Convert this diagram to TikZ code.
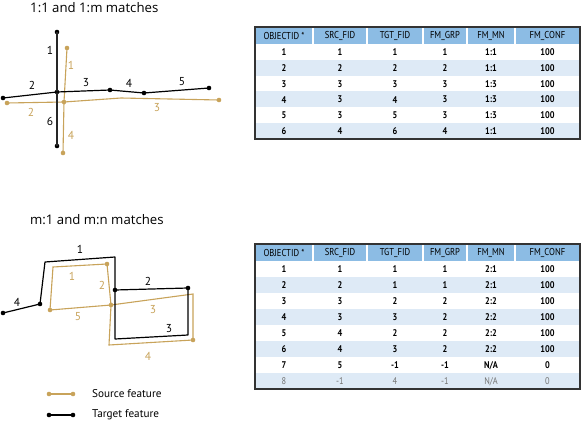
\documentclass[tikz,border=0pt]{standalone}
\usepackage{fontspec}
\setmainfont{Open Sans}
\newfontfamily\numfont{PT Sans}
\newfontfamily\tabfont[FakeStretch=0.86]{PT Sans}
\definecolor{gold}{RGB}{200,163,90}
\definecolor{hdr}{RGB}{140,188,228}
\definecolor{rowb}{RGB}{222,234,246}
\tikzset{
  tgt/.style={line width=1.2pt,black},
  tgtthick/.style={line width=1.8pt,black!85},
  src/.style={line width=1.1pt,gold},
  bdot/.style={circle,fill=black,inner sep=0pt,minimum size=4.6pt},
  gdot/.style={circle,fill=gold,inner sep=0pt,minimum size=4.6pt},
  blab/.style={font=\numfont\fontsize{11.5}{13}\selectfont,text=black,inner sep=0pt},
  glab/.style={font=\numfont\fontsize{11.5}{13}\selectfont,text=gold,inner sep=0pt},
  ttl/.style={font=\fontsize{13.2}{15}\selectfont,anchor=west,inner sep=0pt},
  tabhd/.style={font=\tabfont\fontsize{10}{11}\selectfont,inner sep=0pt},
  tabtxt/.style={font=\tabfont\bfseries\fontsize{9.7}{10}\selectfont,inner sep=0pt},
  tabgray/.style={font=\tabfont\fontsize{9.7}{10}\selectfont,inner sep=0pt,text=black!55},
  legtxt/.style={font=\numfont\fontsize{11.2}{13}\selectfont,anchor=west,inner sep=0pt},
  tframe/.style={line width=1.4pt,black!80},
}
\begin{document}
\begin{tikzpicture}[x=1pt,y=-1pt]
\useasboundingbox[fill=white] (0,0) rectangle (586,423);

% ---------- Top diagram ----------
\node[ttl] (title1) at (30,8) {1:1 and 1:m matches};
% source (gold)
\coordinate (gv) at (121,98);
\node[gdot] (g1t) at (67,48) {};
\node[gdot] (gc) at (64,102) {};
\node[gdot] (g4b) at (63,153) {};
\node[gdot] (gl) at (7,103) {};
\node[gdot] (gr) at (219,100) {};
\draw[src] (g1t.center) -- (gc.center);
\draw[src] (gc.center) -- (g4b.center);
\draw[src] (gl.center) -- (gc.center);
\draw[src] (gc.center) -- (gv) -- (gr.center);
% target (black)
\node[bdot] (b1t) at (57,32) {};
\node[bdot] (bc) at (57,92) {};
\node[bdot] (b6b) at (57,146) {};
\node[bdot] (bl) at (3,98) {};
\node[bdot] (b3) at (110,90) {};
\node[bdot] (b4) at (144,93) {};
\node[bdot] (b5) at (209,88) {};
\draw[tgtthick] (b1t.center) -- (bc.center);
\draw[tgtthick] (bc.center) -- (b6b.center);
\draw[tgt] (bl.center) -- (bc.center);
\draw[tgt] (bc.center) -- (b3.center);
\draw[tgt] (b3.center) -- (b4.center);
\draw[tgt] (b4.center) -- (b5.center);
% labels
\node[blab] (l1) at (50,50) {1};
\node[blab] (l2) at (32,85) {2};
\node[blab] (l3) at (86,83) {3};
\node[blab] (l4) at (129,83) {4};
\node[blab] (l5) at (182,82) {5};
\node[blab] (l6) at (50,121) {6};
\node[glab] (m1) at (71,65) {1};
\node[glab] (m2) at (31,112) {2};
\node[glab] (m3) at (157,108) {3};
\node[glab] (m4) at (71,135) {4};

% ---------- Bottom diagram ----------
\node[ttl] (title2) at (30,220) {m:1 and m:n matches};
% source (gold)
\coordinate (g1c) at (53,267);
\coordinate (g3c) at (193,294);
\coordinate (g4c) at (109,345);
\node[gdot] (g1r) at (107,264) {};
\node[gdot] (g5l) at (50,310) {};
\node[gdot] (gj) at (111,305) {};
\node[gdot] (g3b) at (193,340) {};
\draw[src] (g5l.center) -- (g1c) -- (g1r.center);
\draw[src] (g1r.center) -- (gj.center);
\draw[src] (g5l.center) -- (gj.center);
\draw[src] (gj.center) -- (g3c) -- (g3b.center);
\draw[src] (g3b.center) -- (g4c) -- (gj.center);
% target (black)
\coordinate (c1) at (45,262);
\coordinate (c2) at (115,257);
\coordinate (c3) at (188,335);
\coordinate (c4) at (115,339);
\node[bdot] (bbl) at (3,313) {};
\node[bdot] (bb4) at (40,304) {};
\node[bdot] (bbj) at (115,290) {};
\node[bdot] (bb2) at (188,288) {};
\draw[tgt] (bbl.center) -- (bb4.center);
\draw[tgt,line join=round] (bb4.center) -- (c1) -- (c2) -- (bbj.center);
\draw[tgt] (bbj.center) -- (bb2.center);
\draw[tgt,line join=round] (bb2.center) -- (c3) -- (c4) -- (bbj.center);
% labels
\node[blab] (n1) at (80,249) {1};
\node[blab] (n2) at (148,281) {2};
\node[blab] (n3) at (169,329) {3};
\node[blab] (n4) at (17,302) {4};
\node[glab] (o1) at (72,276) {1};
\node[glab] (o2) at (102,285) {2};
\node[glab] (o3) at (153,310) {3};
\node[glab] (o4) at (148,356) {4};
\node[glab] (o5) at (78,317) {5};

% ---------- Legend ----------
\node[gdot] (ls1) at (49,394) {};
\node[gdot] (ls2) at (73,394) {};
\draw[src] (ls1.center) -- (ls2.center);
\node[legtxt] (lst) at (92,394) {Source feature};
\node[bdot] (lt1) at (49,415) {};
\node[bdot] (lt2) at (73,415) {};
\draw[tgt] (lt1.center) -- (lt2.center);
\node[legtxt] (ltt) at (92,415) {Target feature};

% ---------- Tables ----------
\def\colL{{255,313,367,423,467,515}}
\def\colR{{313,367,423,467,515,580}}
% top table
\foreach \txt [count=\c] in {OBJECTID *,SRC\_FID,TGT\_FID,FM\_GRP,FM\_MN,FM\_CONF}{
  \pgfmathsetmacro\xa{\colL[\c-1]}
  \pgfmathsetmacro\xb{\colR[\c-1]}
  \fill[hdr] (\xa+0.6,27) rectangle (\xb-0.6,44);
  \node[tabhd] (ah\c) at ({(\xa+\xb)/2},35.8) {\txt};
}
\foreach \row [count=\r] in {{1,1,1,1,1:1,100},{2,2,2,2,1:1,100},{3,3,3,3,1:3,100},{4,3,4,3,1:3,100},{5,3,5,3,1:3,100},{6,4,6,4,1:1,100}}{
  \pgfmathsetmacro\yt{44+(\r-1)*15.8}
  \ifodd\r\else\fill[rowb] (255,\yt) rectangle (580,\yt+15.8);\fi
  \foreach \v [count=\c] in \row {
    \pgfmathsetmacro\xa{\colL[\c-1]}
    \pgfmathsetmacro\xb{\colR[\c-1]}
    \node[tabtxt] (a-\r-\c) at ({(\xa+\xb)/2},\yt+8.2) {\v};
  }
}
\draw[tframe] (255,27) rectangle (580,139);
% bottom table
\foreach \txt [count=\c] in {OBJECTID *,SRC\_FID,TGT\_FID,FM\_GRP,FM\_MN,FM\_CONF}{
  \pgfmathsetmacro\xa{\colL[\c-1]}
  \pgfmathsetmacro\xb{\colR[\c-1]}
  \fill[hdr] (\xa+0.6,244) rectangle (\xb-0.6,261);
  \node[tabhd] (bh\c) at ({(\xa+\xb)/2},252.8) {\txt};
}
\foreach \row [count=\r] in {{1,1,1,1,2:1,100},{2,2,1,1,2:1,100},{3,3,2,2,2:2,100},{4,3,3,2,2:2,100},{5,4,2,2,2:2,100},{6,4,3,2,2:2,100},{7,5,-1,-1,N/A,0},{8,-1,4,-1,N/A,0}}{
  \pgfmathsetmacro\yt{261+(\r-1)*16}
  \ifodd\r\else\fill[rowb] (255,\yt) rectangle (580,\yt+16);\fi
  \ifnum\r=8 \def\ts{tabgray}\else\def\ts{tabtxt}\fi
  \foreach \v [count=\c] in \row {
    \pgfmathsetmacro\xa{\colL[\c-1]}
    \pgfmathsetmacro\xb{\colR[\c-1]}
    \node[\ts] (b-\r-\c) at ({(\xa+\xb)/2},\yt+8.3) {\v};
  }
}
\draw[tframe] (255,244) rectangle (580,389);
\end{tikzpicture}
\end{document}
